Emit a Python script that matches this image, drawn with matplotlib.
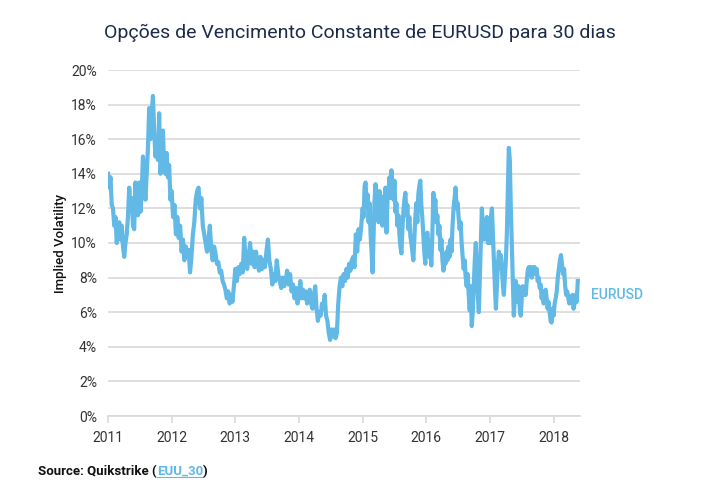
import numpy as np
import matplotlib
matplotlib.use("Agg")
import matplotlib.pyplot as plt
from matplotlib.lines import Line2D

plt.rcParams['font.family'] = ['Roboto', 'DejaVu Sans']

# implied vol (%), roughly weekly readings, one list per calendar year
vol_2011 = [14.0, 13.2, 13.8, 12.2, 12.0, 11.0, 11.5, 10.0, 10.8, 11.2, 10.2, 11.0, 9.8,
            9.2, 10.0, 10.5, 11.5, 13.2, 12.0, 12.6, 11.0, 10.8, 13.5, 12.0, 11.6, 13.5,
            11.8, 13.0, 15.0, 13.5, 12.5, 14.0, 15.5, 17.8, 16.0, 17.5, 18.5, 16.5, 15.0,
            16.0, 14.8, 17.5, 14.0, 15.0, 16.5, 14.5, 14.0, 15.2, 13.8, 14.5, 12.5]
vol_2012 = [13.0, 11.5, 12.2, 10.5, 11.5, 10.3, 11.0, 9.5, 10.2, 9.0, 9.8, 9.3, 9.6, 8.3,
            9.2, 10.5, 11.2, 12.5, 13.0, 13.2, 12.0, 12.6, 11.0, 10.5, 10.0, 9.5, 10.2,
            11.0, 9.6, 9.0, 9.8, 9.4, 8.8, 8.9, 8.3, 8.4, 7.8, 7.6, 7.3, 6.8, 7.2, 6.5,
            7.0, 6.6, 7.5]
vol_2013 = [8.5, 7.8, 8.6, 8.2, 8.8, 8.3, 10.3, 9.0, 8.5, 9.2, 10.0, 8.8, 9.5, 8.6, 9.5,
            8.8, 8.4, 9.2, 8.5, 9.0, 8.6, 9.5, 10.2, 9.0, 8.5, 7.6, 8.2, 7.8, 9.0, 8.2,
            7.8, 7.4, 8.0, 7.5, 7.8, 8.4, 7.6, 8.2, 7.2, 7.6, 6.8, 7.4, 6.5]
vol_2014 = [7.0, 7.8, 6.8, 7.3, 6.8, 7.2, 6.5, 7.0, 7.3, 6.5, 6.2, 7.0, 7.5, 6.2, 5.5,
            6.0, 5.8, 6.5, 6.2, 7.0, 5.8, 5.5, 4.8, 4.4, 5.0, 4.6, 5.0, 4.5, 4.8, 6.5,
            7.5, 8.0, 7.5, 8.2, 7.8, 8.5, 8.0, 8.8, 8.4, 9.0, 9.2, 8.6, 10.5, 9.5, 10.8,
            10.2, 11.0]
vol_2015 = [12.0, 11.5, 13.3, 13.5, 12.2, 12.8, 11.2, 12.3, 10.5, 9.5, 8.3, 10.5, 12.5,
            13.4, 12.0, 12.8, 11.2, 13.0, 11.6, 12.7, 11.0, 12.5, 11.8, 13.2, 10.6, 12.5,
            13.0, 13.8, 12.6, 14.2, 13.3, 12.5, 13.6, 11.8, 12.3, 11.0, 11.6, 10.5, 9.8,
            9.4, 10.8, 11.8, 12.5, 12.9, 11.6, 12.2, 10.8, 11.5, 10.4, 10.0, 9.5, 9.0,
            10.2, 11.5, 12.3, 11.2, 12.8, 13.3, 13.6, 12.2, 11.5, 10.5, 9.5, 8.8]
vol_2016 = [10.0, 10.6, 10.0, 9.2, 9.6, 8.7, 10.5, 12.9, 12.0, 12.5, 11.2, 11.6, 10.5,
            11.0, 9.6, 10.2, 9.0, 8.4, 9.2, 8.8, 9.5, 9.0, 9.8, 9.2, 10.2, 9.5, 11.0,
            12.0, 12.6, 13.2, 12.0, 12.3, 11.5, 10.8, 11.2, 10.0, 9.2, 8.5, 9.0, 8.0,
            7.5, 8.2, 7.0, 6.1, 7.5, 5.2, 6.0, 7.5, 9.0, 10.0, 8.5, 7.0, 6.0, 8.0, 10.0,
            12.0, 11.0, 10.2, 11.2, 10.5, 11.5, 10.0, 11.3]
vol_2017 = [10.0, 11.5, 12.0, 10.5, 9.0, 7.5, 6.2, 7.5, 8.8, 9.5, 8.6, 9.3, 8.5, 7.6,
            7.0, 8.0, 9.0, 10.5, 13.0, 15.5, 14.8, 12.0, 10.0, 8.0, 5.8, 6.8, 7.8, 7.2,
            6.6, 7.5, 6.2, 5.8, 6.8, 7.5, 7.0, 7.4, 7.0, 7.8, 8.4, 8.6, 8.2, 8.6, 8.0,
            8.6, 8.2, 8.6, 8.3, 8.5, 7.8, 8.0, 7.4, 7.6, 6.8, 7.2, 6.5, 7.0, 7.3, 6.8,
            6.2, 6.6, 6.0, 5.5, 5.4, 6.2]
vol_2018 = [5.8, 6.5, 6.8, 7.2, 8.0, 8.5, 9.0, 9.3, 8.8, 8.2, 8.5, 7.5, 7.0, 7.2, 6.8,
            6.5, 6.9, 6.6, 7.0, 6.2, 6.5, 7.0, 6.6, 7.8]

years = [2011, 2012, 2013, 2014, 2015, 2016, 2017, 2018]
series = [vol_2011, vol_2012, vol_2013, vol_2014, vol_2015, vol_2016, vol_2017, vol_2018]
end_2018 = 2018.38  # data stops around mid-May 2018

dates, vols = [], []
for yr, vals in zip(years, series):
    stop = end_2018 if yr == 2018 else yr + 1
    dates.extend(np.linspace(yr, stop, len(vals), endpoint=(yr == 2018)))
    vols.extend(vals)

blue = '#62B9E6'
grid_c = '#d9d9d9'

fig = plt.figure(figsize=(7.2, 5), dpi=100)
ax = fig.add_axes([0.15, 0.168, 0.656, 0.692])

ax.plot(dates, vols, color=blue, lw=3.0, solid_joinstyle='round')

ax.set_xlim(2011, 2018.42)
ax.set_ylim(0, 20)
ax.set_yticks(range(0, 21, 2))
ax.set_yticklabels([f'{v}%' for v in range(0, 21, 2)])
ax.set_xticks(years)
ax.set_xticklabels([str(y) for y in years])
ax.grid(axis='y', color=grid_c, lw=1.2)
ax.set_axisbelow(True)
for s in ['top', 'right', 'left']:
    ax.spines[s].set_visible(False)
ax.spines['bottom'].set_color(grid_c)
ax.spines['bottom'].set_linewidth(1.2)
ax.tick_params(axis='y', length=0, pad=8, labelsize=10, labelcolor='#333333')
ax.tick_params(axis='x', length=5, color=grid_c, width=1.2, pad=6,
               labelsize=10, labelcolor='#333333')

ax.set_ylabel('Implied Volatility', fontsize=9.5, fontweight='medium', color='#111111', labelpad=3)

ax.text(end_2018 + 0.2, 7.0, 'EURUSD', color=blue, fontsize=10, fontweight='medium',
        va='center', ha='left', clip_on=False)

fig.text(0.5, 0.934, 'Opções de Vencimento Constante de EURUSD para 30 dias',
         ha='center', va='center', fontsize=14, color='#1c2b4b')

src_y = 0.05
t1 = fig.text(0.053, src_y, 'Source: Quikstrike (', fontsize=9.5, fontweight='bold', color='#111111')
t2 = fig.text(0, 0, 'EUU_30', fontsize=9.5, fontweight='bold', color=blue)
t3 = fig.text(0, 0, ')', fontsize=9.5, fontweight='bold', color='#111111')
fig.canvas.draw()
r = fig.canvas.get_renderer()
b1 = t1.get_window_extent(r)
W, H = fig.bbox.width, fig.bbox.height
t2.set_position((b1.x1 / W, src_y))
fig.canvas.draw()
b2 = t2.get_window_extent(r)
t3.set_position((b2.x1 / W, src_y))
fig.add_artist(Line2D([b2.x0 / W, b2.x1 / W], [b2.y0 / H + 0.002] * 2, color=blue, lw=0.8))

fig.savefig('out.png', dpi=100)
